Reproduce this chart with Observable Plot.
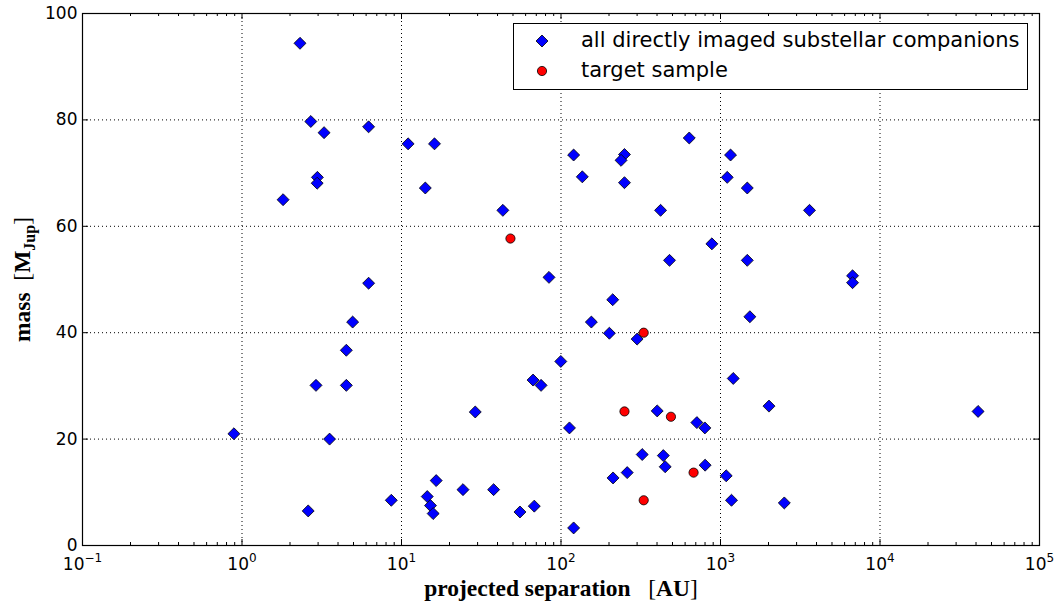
<!DOCTYPE html>
<html><head><meta charset="utf-8">
<script src="https://cdn.jsdelivr.net/npm/d3@7"></script>
<script src="https://cdn.jsdelivr.net/npm/@observablehq/plot@0.6"></script>
<style>
body{margin:0;background:#fff;}
#wrap{position:relative;width:1056px;height:607px;}
#legend{position:absolute;left:513px;top:23px;width:515px;height:67px;border:1px solid #000;background:#fff;font-family:"DejaVu Sans";font-size:21px;box-sizing:border-box;color:#000;}
#legend svg{position:absolute;}
#legend span{position:absolute;left:67px;line-height:30px;white-space:nowrap;}
</style></head>
<body><div id="wrap"></div>
<script>
// companions: projected separation (AU) and mass (M_Jup)
const compSep  = [2.31, 2.70, 3.27, 2.97, 2.96, 1.81, 0.89, 2.91, 4.51, 4.51, 4.94, 3.54, 2.60,
  6.22, 11.0, 16.1, 14.1, 43.2, 6.22, 84.1, 120, 250, 238, 136, 250, 421, 637, 479, 211,
  1156, 1102, 1472, 3614, 883, 1472, 6730, 6730, 1528, 1202, 2014, 41200, 711, 798, 801,
  1086, 1172, 2512, 155, 201, 300, 99.7, 66.8, 75.0, 29.0, 401, 113, 323, 438, 450, 260,
  212, 120, 55.3, 68, 37.8, 24.3, 16.5, 14.5, 15.2, 15.8, 8.63];
const compMass = [94.4, 79.7, 77.6, 69.2, 68.1, 65.0, 21.0, 30.1, 30.1, 36.7, 42.0, 20.0, 6.5,
  78.7, 75.5, 75.5, 67.2, 63.0, 49.3, 50.4, 73.4, 73.5, 72.4, 69.3, 68.2, 63.0, 76.6, 53.6, 46.2,
  73.4, 69.2, 67.2, 63.0, 56.7, 53.6, 50.7, 49.4, 43.0, 31.4, 26.2, 25.2, 23.1, 22.1, 15.1,
  13.1, 8.5, 8.0, 42.0, 39.9, 38.8, 34.6, 31.1, 30.1, 25.1, 25.3, 22.1, 17.1, 16.9, 14.8, 13.7,
  12.7, 3.3, 6.3, 7.4, 10.5, 10.5, 12.2, 9.2, 7.5, 6.0, 8.5];
// target sample
const targSep  = [48.2, 330, 250, 489, 678, 330];
const targMass = [57.7, 40.0, 25.2, 24.2, 13.7, 8.5];

const xTicks = [0.1, 1, 10, 100, 1000, 10000, 100000];
const xTickBase = "10";
const xTickExponents = ["\u22121", "0", "1", "2", "3", "4", "5"];
const yTicks = [0, 20, 40, 60, 80, 100];
const yTickLabels = ["0", "20", "40", "60", "80", "100"];
const xLabelParts = [
  {text: "projected separation", bold: true},
  {text: "\u00a0\u00a0\u00a0[", bold: false},
  {text: "AU", bold: true},
  {text: "]", bold: false}
];
const yLabelParts = [
  {text: "mass", bold: true},
  {text: "\u00a0\u00a0[", bold: false},
  {text: "M", bold: true},
  {text: "Jup", bold: true, sub: true},
  {text: "]", bold: false}
];
const legendLabels = ["all directly imaged substellar companions", "target sample"];

const companions = compSep.map((s, i) => ({sep: s, mass: compMass[i]}));
const targets = targSep.map((s, i) => ({sep: s, mass: targMass[i]}));
const minorTicks = [];
for (let e = -1; e < 5; e++) for (let k = 2; k <= 9; k++) minorTicks.push(k * Math.pow(10, e));
const xLabel = xLabelParts.map(p => p.text).join("");
const yLabel = yLabelParts.map(p => p.text).join("");
const xTickKeys = xTickExponents.map(e => xTickBase + "^" + e);

const W = 1056, H = 607, mL = 82, mR = 17, mT = 13, mB = 62;
const fw = W - mL - mR, fh = H - mT - mB;
const serif = "'Liberation Serif', serif";

const chart = Plot.plot({
  width: W, height: H,
  marginLeft: mL, marginRight: mR, marginTop: mT, marginBottom: mB,
  style: {fontFamily: "'DejaVu Sans', sans-serif", fontSize: "17px", color: "#000", background: "#fff"},
  x: {type: "log", domain: [0.1, 100000]},
  y: {domain: [0, 100]},
  marks: [
    Plot.ruleX(xTicks.slice(1, -1), {x: d => d, stroke: "#000", strokeWidth: 1, strokeDasharray: "1,3"}),
    Plot.ruleY(yTicks.slice(1, -1), {y: d => d, stroke: "#000", strokeWidth: 1, strokeDasharray: "1,3"}),
    Plot.dot(companions, {x: "sep", y: "mass", symbol: "diamond2", r: 5.4, fill: "#0000ff", stroke: "#000", strokeWidth: 0.8}),
    Plot.dot(targets, {x: "sep", y: "mass", symbol: "circle", r: 4.6, fill: "#ff0000", stroke: "#000", strokeWidth: 0.8}),
    Plot.frame({stroke: "#000", strokeWidth: 1.2}),
    Plot.tickX(xTicks, {x: d => d, insetTop: fh - 6, stroke: "#000"}),
    Plot.tickX(xTicks, {x: d => d, insetBottom: fh - 6, stroke: "#000"}),
    Plot.tickX(minorTicks, {x: d => d, insetTop: fh - 3, stroke: "#000"}),
    Plot.tickX(minorTicks, {x: d => d, insetBottom: fh - 3, stroke: "#000"}),
    Plot.tickY(yTicks, {y: d => d, insetRight: fw - 6, stroke: "#000"}),
    Plot.tickY(yTicks, {y: d => d, insetLeft: fw - 6, stroke: "#000"}),
    Plot.axisX(xTicks, {tickSize: 0, tickPadding: 12, label: null, tickFormat: d => xTickKeys[xTicks.indexOf(d)]}),
    Plot.axisY(yTicks, {tickSize: 0, tickPadding: 5, label: null, tickFormat: d => yTickLabels[yTicks.indexOf(d)]}),
    Plot.text([xLabel], {text: d => d, frameAnchor: "bottom", textAnchor: "middle", lineAnchor: "middle", dy: 42.5, fontFamily: serif, fontSize: 23.5}),
    Plot.text([yLabel], {text: d => d, frameAnchor: "left", textAnchor: "middle", lineAnchor: "middle", dx: -60.5, rotate: -90, fontFamily: serif, fontSize: 23.5})
  ]
});

function rebuild(el, parts) {
  const t = d3.select(el);
  t.text(null);
  let shift = 0;
  parts.forEach(p => {
    const s = t.append("tspan").text(p.text).attr("font-weight", p.bold ? "bold" : "normal");
    const target = p.sub ? 5 : 0;
    if (target !== shift) { s.attr("dy", target - shift); shift = target; }
    if (p.sub) s.attr("font-size", 16);
  });
}
d3.select(chart).selectAll("text").each(function() {
  const c = this.textContent;
  if (c === xLabel) rebuild(this, xLabelParts);
  else if (c === yLabel) rebuild(this, yLabelParts);
  else {
    const i = xTickKeys.indexOf(c);
    if (i >= 0) {
      const t = d3.select(this);
      t.text(null);
      t.append("tspan").text(xTickBase);
      t.append("tspan").attr("font-size", 12).attr("dy", -8).text(xTickExponents[i]);
    }
  }
});

const wrap = document.getElementById("wrap");
wrap.appendChild(chart);

// legend
const legend = document.createElement("div");
legend.id = "legend";
const ns = "http://www.w3.org/2000/svg";
const symbols = [
  {top: 1, draw: g => { const p = document.createElementNS(ns, "path"); p.setAttribute("d", "M8,2L14,8L8,14L2,8Z"); p.setAttribute("fill", "#0000ff"); p.setAttribute("stroke", "#000"); p.setAttribute("stroke-width", "0.8"); g.appendChild(p); }},
  {top: 31, draw: g => { const c = document.createElementNS(ns, "circle"); c.setAttribute("cx", 8); c.setAttribute("cy", 8); c.setAttribute("r", 4.6); c.setAttribute("fill", "#ff0000"); c.setAttribute("stroke", "#000"); c.setAttribute("stroke-width", "0.8"); g.appendChild(c); }}
];
symbols.forEach((s, i) => {
  const svg = document.createElementNS(ns, "svg");
  svg.setAttribute("width", 16); svg.setAttribute("height", 16);
  svg.style.left = "20px"; svg.style.top = (s.top + 8) + "px";
  s.draw(svg);
  legend.appendChild(svg);
  const span = document.createElement("span");
  span.style.top = s.top + "px";
  span.textContent = legendLabels[i];
  legend.appendChild(span);
});
wrap.appendChild(legend);
</script>
</body></html>
